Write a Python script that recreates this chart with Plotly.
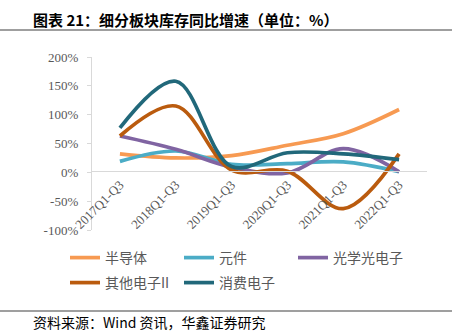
import plotly.graph_objects as go

categories = ["2017Q1-Q3", "2018Q1-Q3", "2019Q1-Q3", "2020Q1-Q3", "2021Q1-Q3", "2022Q1-Q3"]
semis = [32, 25, 29, 47, 67, 109]
components = [19, 37, 14, 15, 18, 1]
optoelec = [63, 40, 9, -1, 41, 1]
other_elec = [63, 115, 4, 2, -63, 32]
consumer = [77, 158, 10, 34, 32, 22]
y_ticks = [-100, -50, 0, 50, 100, 150, 200]

series = [
    ("半导体", semis, "#F79A52", "legend"),
    ("元件", components, "#4BACC6", "legend"),
    ("光学光电子", optoelec, "#8064A2", "legend"),
    ("其他电子II", other_elec, "#BA5B0E", "legend2"),
    ("消费电子", consumer, "#21687A", "legend2"),
]

fig = go.Figure()
for name, vals, color, lg in series:
    fig.add_trace(go.Scatter(
        x=categories, y=vals, name=name, mode="lines",
        line=dict(color=color, width=3.7, shape="spline", smoothing=1.0),
        legend=lg,
    ))

W, H = 452, 331
top, bottom = 57, 230
left, right = 92, 427
PW, PH = right - left, bottom - top


def px(x):
    return (x - left) / PW


def py(y):
    return (bottom - y) / PH


zero_frac = py(171)

legend_font = dict(family="Noto Sans CJK SC", size=14, color="#595959")

fig.update_layout(
    width=W, height=H,
    margin=dict(l=left, r=W - right, t=top, b=H - bottom, pad=0, autoexpand=False),
    paper_bgcolor="white", plot_bgcolor="white",
    showlegend=True,
    xaxis=dict(
        type="category", anchor="free", position=zero_frac,
        showline=True, linecolor="#D9D9D9", linewidth=1.3,
        showgrid=False, zeroline=False, ticks="",
        tickangle=-45, automargin=False,
        tickfont=dict(family="Liberation Serif", size=13, color="#595959"),
        range=[-0.5, 5.5],
    ),
    yaxis=dict(
        range=[-100, 200], tickvals=y_ticks,
        ticktext=[f"{v}%" for v in y_ticks],
        showline=True, linecolor="#D9D9D9", linewidth=1.3,
        showgrid=False, zeroline=False, automargin=False,
        ticks="outside", ticklen=4, tickcolor="#D9D9D9",
        tickfont=dict(family="Liberation Serif", size=13, color="#595959"),
        ticklabelstandoff=6,
    ),
    legend=dict(
        orientation="h", xref="paper", yref="paper",
        x=px(65), y=py(258), xanchor="left", yanchor="middle",
        font=legend_font, entrywidth=69, entrywidthmode="pixels",
        bgcolor="rgba(0,0,0,0)", itemwidth=30,
    ),
    legend2=dict(
        orientation="h", xref="paper", yref="paper",
        x=px(65), y=py(283), xanchor="left", yanchor="middle",
        font=legend_font, entrywidth=69, entrywidthmode="pixels",
        bgcolor="rgba(0,0,0,0)", itemwidth=30,
    ),
    shapes=[
        dict(type="line", xref="paper", yref="paper", x0=px(0), x1=px(W),
             y0=py(30), y1=py(30), line=dict(color="#7F7F7F", width=1.5)),
        dict(type="line", xref="paper", yref="paper", x0=px(0), x1=px(W),
             y0=py(311), y1=py(311), line=dict(color="#7F7F7F", width=1.5)),
    ],
    annotations=[
        dict(text="<b>图表 21：细分板块库存同比增速（单位：%）</b>", xref="paper", yref="paper",
             x=px(31), y=py(19), xanchor="left", yanchor="middle", showarrow=False,
             font=dict(family="Noto Sans CJK SC", size=15, color="#000000")),
        dict(text="资料来源：Wind 资讯，华鑫证券研究", xref="paper", yref="paper",
             x=px(31), y=py(322), xanchor="left", yanchor="middle", showarrow=False,
             font=dict(family="Noto Sans CJK SC", size=14, color="#000000")),
    ],
)

fig.write_html("out.html")
